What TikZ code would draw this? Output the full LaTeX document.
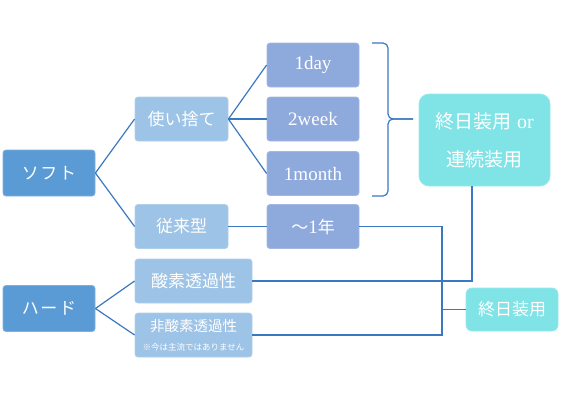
\documentclass[tikz,border=0pt]{standalone}
\usepackage{fontspec}
\newfontfamily\jp{Noto Sans CJK JP}
\newfontfamily\jps[LetterSpace=10]{Noto Sans CJK JP}
\newfontfamily\lat{Liberation Serif}
\definecolor{dkblue}{HTML}{5B9BD5}
\definecolor{dkborder}{HTML}{7EAFDE}
\definecolor{ltblue}{HTML}{9DC3E6}
\definecolor{ltborder}{HTML}{B0CFEC}
\definecolor{peri}{HTML}{8EA9DB}
\definecolor{periborder}{HTML}{A3B8E1}
\definecolor{cyanbox}{HTML}{80E3E6}
\definecolor{cyanborder}{HTML}{98E9EB}
\definecolor{linec}{HTML}{3A78BF}
\tikzset{
  x=1pt,y=-1pt,
  box/.style={rounded corners=3pt,inner sep=0pt,text=white,font=\fontsize{17}{19}\selectfont,line width=0.8pt,align=center},
  mainbox/.style={box,fill=dkblue,draw=dkborder,minimum width=92pt,minimum height=46pt},
  subbox/.style={box,fill=ltblue,draw=ltborder,minimum width=93pt,minimum height=44pt},
  perbox/.style={box,fill=peri,draw=periborder,minimum width=92pt,minimum height=44pt,font=\lat\fontsize{19}{20}\selectfont},
  cybox/.style={box,fill=cyanbox,draw=cyanborder},
  conn/.style={draw=linec,line width=1.2pt}
}
\begin{document}
\begin{tikzpicture}
\useasboundingbox (0,0) rectangle (567,400);
\node[mainbox] (soft) at (49,173) {\jps ソフト};
\node[mainbox] (hard) at (49,308.5) {\jps ハード};
\node[subbox] (tsukai) at (181.5,119) {\jp 使い捨て};
\node[subbox] (jurai) at (181.5,226.5) {\jp 従来型};
\node[subbox,minimum width=117pt] (sanso) at (193.5,281) {\jp 酸素透過性};
\node[subbox,minimum width=117pt] (hisanso) at (193.5,335) {\jp\fontsize{14.5}{15}\selectfont 非酸素透過性\\[0pt]\jp\fontsize{8.5}{10}\selectfont ※今は主流ではありません};
\node[perbox] (d1) at (313,65) {1day};
\node[perbox] (w2) at (313,119) {2week};
\node[perbox] (m1) at (313,173.5) {1month};
\node[perbox] (y1) at (313,226.5) {{\jp\fontsize{17}{19}\selectfont ～}1{\jp\fontsize{17}{19}\selectfont 年}};
\node[cybox,rounded corners=10pt,minimum width=131pt,minimum height=92pt,font=\fontsize{19}{38}\selectfont] (big) at (484.5,140) {{\jp 終日装用} {\lat\fontsize{20}{38}\selectfont or}\\{\jp 連続装用}};
\node[cybox,rounded corners=6pt,minimum width=92pt,minimum height=43pt] (shu) at (512,309.5) {\jp 終日装用};
% tree connectors
\draw[conn] (soft.east) -- (tsukai.west);
\draw[conn] (soft.east) -- (jurai.west);
\draw[conn] (hard.east) -- (sanso.west);
\draw[conn] (hard.east) -- (hisanso.west);
\draw[conn] (tsukai.east) -- (d1.west);
\draw[conn] (tsukai.east) -- (w2.west);
\draw[conn] (tsukai.east) -- (m1.west);
\draw[conn] (jurai.east) -- (y1.west);
% brace
\coordinate (bt) at (372,43);
\coordinate (bb) at (372,196);
\coordinate (btip) at (413,119);
\draw[conn,rounded corners=5pt] (bt) -- (388,43) -- (388,119) -- (btip);
\draw[conn,rounded corners=5pt] (bb) -- (388,196) -- (388,119) -- (btip);
% big box to sanso
\coordinate (bigout) at (472,186);
\draw[conn] (bigout) |- (sanso.east);
% 1 year to hisanso and shujitsu
\coordinate (j) at (442,309.5);
\draw[conn] (y1.east) -| (j) |- (hisanso.east);
\draw[conn] (j) -- (shu.west);
\end{tikzpicture}
\end{document}
